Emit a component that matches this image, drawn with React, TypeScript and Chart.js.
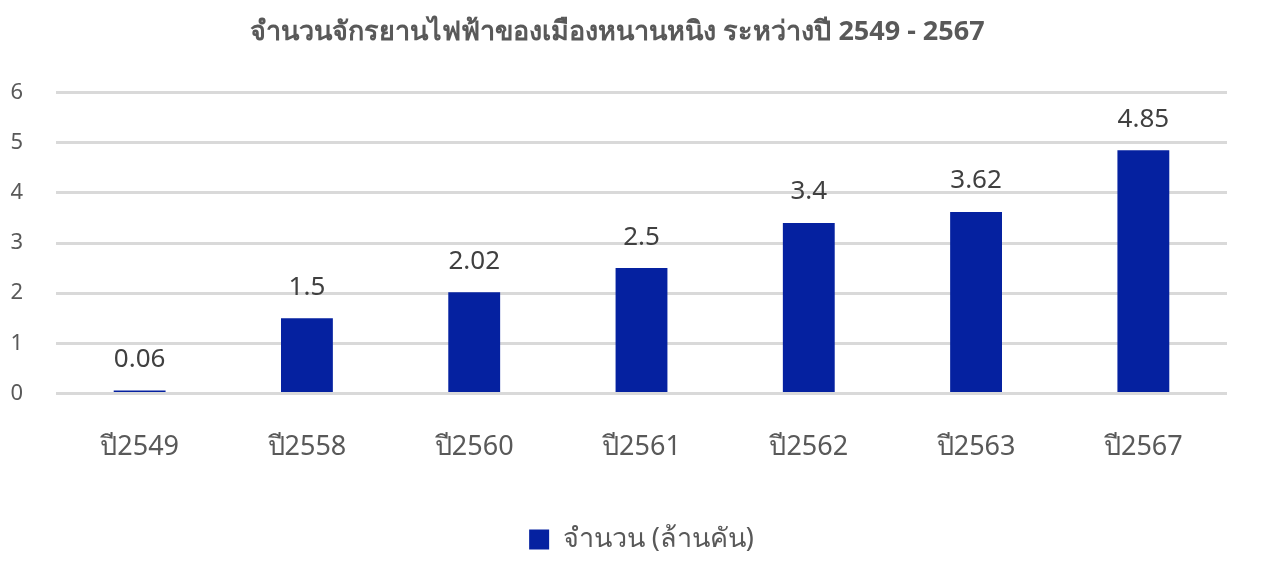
import { useEffect, useRef } from 'react';
import { Chart, registerables } from 'chart.js';

Chart.register(...registerables);

const years = ['ปี2549', 'ปี2558', 'ปี2560', 'ปี2561', 'ปี2562', 'ปี2563', 'ปี2567'];
const counts = [0.06, 1.5, 2.02, 2.5, 3.4, 3.62, 4.85];
const seriesName = 'จำนวน (ล้านคัน)';
const chartTitle = 'จำนวนจักรยานไฟฟ้าของเมืองหนานหนิง ระหว่างปี 2549 - 2567';

const FONT = '"Noto Sans", "Open Sans", sans-serif';

// draws the value above each bar
const valueLabels = {
  id: 'valueLabels',
  afterDatasetsDraw(chart: any) {
    const ctx = chart.ctx;
    const meta = chart.getDatasetMeta(0);
    ctx.save();
    ctx.font = `26px ${FONT}`;
    ctx.fillStyle = '#404040';
    ctx.textAlign = 'center';
    ctx.textBaseline = 'bottom';
    meta.data.forEach((bar: any, i: number) => {
      ctx.fillText(String(counts[i]), bar.x, bar.y - 18);
    });
    ctx.restore();
  },
};

export default function App() {
  const canvasRef = useRef<HTMLCanvasElement | null>(null);
  const chartRef = useRef<Chart | null>(null);

  useEffect(() => {
    const ctx = canvasRef.current?.getContext('2d');
    if (!ctx) return;
    chartRef.current = new Chart(ctx, {
      type: 'bar',
      data: {
        labels: years,
        datasets: [
          {
            label: seriesName,
            data: counts,
            backgroundColor: '#0521a0',
            categoryPercentage: 1,
            barPercentage: 0.31,
          },
        ],
      },
      options: {
        animation: false,
        responsive: true,
        maintainAspectRatio: false,
        layout: { padding: { left: 8, right: 36, top: 14, bottom: 6 } },
        plugins: {
          title: {
            display: true,
            text: chartTitle,
            color: '#595959',
            font: { family: FONT, size: 27, weight: 'bold' },
            padding: { top: 2, bottom: 44 },
          },
          legend: {
            position: 'bottom',
            fullSize: false,
            labels: {
              color: '#595959',
              font: { family: FONT, size: 27 },
              boxWidth: 20,
              boxHeight: 20,
              padding: 10,
            },
          },
          tooltip: { enabled: false },
        },
        scales: {
          x: {
            grid: { display: false },
            border: { display: false },
            ticks: {
              color: '#595959',
              font: { family: FONT, size: 27 },
              padding: 30,
            },
            afterFit: (scale: any) => {
              scale.height += 22;
            },
          },
          y: {
            min: 0,
            max: 6,
            grid: { color: '#d9d9d9', lineWidth: 3, drawTicks: false },
            border: { display: false },
            ticks: {
              stepSize: 1,
              color: '#595959',
              font: { family: FONT, size: 22 },
              padding: 33,
            },
            afterFit: (scale: any) => {
              scale.width = 48;
            },
          },
        },
      },
      plugins: [valueLabels],
    });
    return () => chartRef.current?.destroy();
  }, []);

  return (
    <div style={{ position: 'fixed', left: 0, top: 0, width: 1263, height: 569, background: '#fff' }}>
      <canvas ref={canvasRef} />
    </div>
  );
}
